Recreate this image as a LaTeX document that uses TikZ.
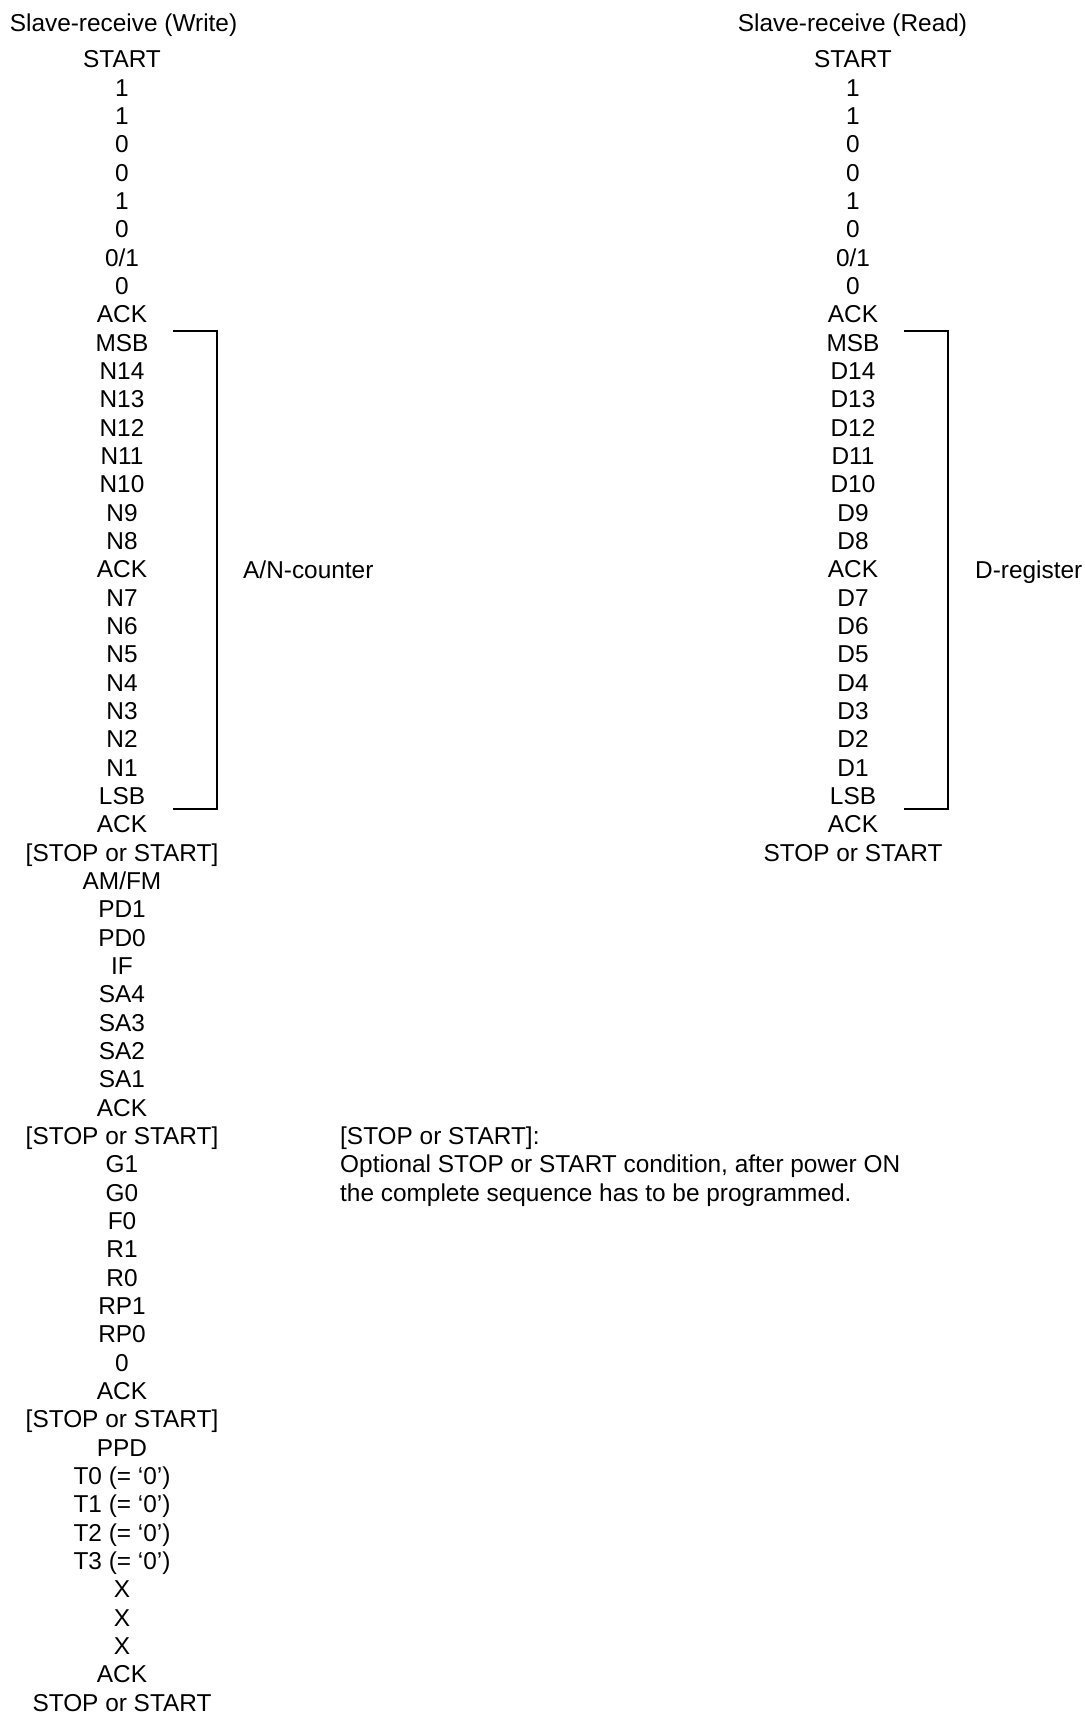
\documentclass[tikz,border=0pt]{standalone}
\usepackage{fontspec}
\setmainfont{Liberation Sans}
\begin{document}
\begin{tikzpicture}[x=1pt,y=-1pt,
  lbl/.style={inner sep=0pt,anchor=base,font=\fontsize{24.4}{28}\selectfont},
  note/.style={inner sep=0pt,anchor=base west,font=\fontsize{24.4}{28}\selectfont},
  brk/.style={line width=1.3pt}]
\useasboundingbox (0,0) rectangle (1084,1715);
\node[lbl] (hl) at (123.5,32) {Slave-receive (Write)};
\node[lbl] (hr) at (852.5,32) {Slave-receive (Read)};
\foreach \t [count=\i from 0] in {START,1,1,0,0,1,0,{0/1},0,ACK,MSB,N14,N13,N12,N11,N10,N9,N8,ACK,N7,N6,N5,N4,N3,N2,N1,LSB,ACK,{[STOP or START]},{AM/FM},PD1,PD0,IF,SA4,SA3,SA2,SA1,ACK,{[STOP or START]},G1,G0,F0,R1,R0,RP1,RP0,0,ACK,{[STOP or START]},PPD,{T0 (= ‘0’)},{T1 (= ‘0’)},{T2 (= ‘0’)},{T3 (= ‘0’)},X,X,X,ACK,{STOP or START}}
  \node[lbl] (l\i) at (122,{68+\i*28.33}) {\t};
\foreach \t [count=\i from 0] in {START,1,1,0,0,1,0,{0/1},0,ACK,MSB,D14,D13,D12,D11,D10,D9,D8,ACK,D7,D6,D5,D4,D3,D2,D1,LSB,ACK,{STOP or START}}
  \node[lbl] (r\i) at (853,{68+\i*28.33}) {\t};
\coordinate (la) at (173,331);
\coordinate (lb) at (217,331);
\coordinate (lc) at (217,809);
\coordinate (ld) at (173,809);
\draw[brk] (la) -- (lb) -- (lc) -- (ld);
\coordinate (ra) at (904,331);
\coordinate (rb) at (948,331);
\coordinate (rc) at (948,809);
\coordinate (rd) at (904,809);
\draw[brk] (ra) -- (rb) -- (rc) -- (rd);
\node[note] (an) at (243,578) {A/N-counter};
\node[note] (dr) at (975,578) {D-register};
\node[note] (n1) at (340,{68+38*28.33}) {[STOP or START]:};
\node[note] (n2) at (340,{68+39*28.33}) {Optional STOP or START condition, after power ON};
\node[note] (n3) at (340,{68+40*28.33}) {the complete sequence has to be programmed.};
\end{tikzpicture}
\end{document}
